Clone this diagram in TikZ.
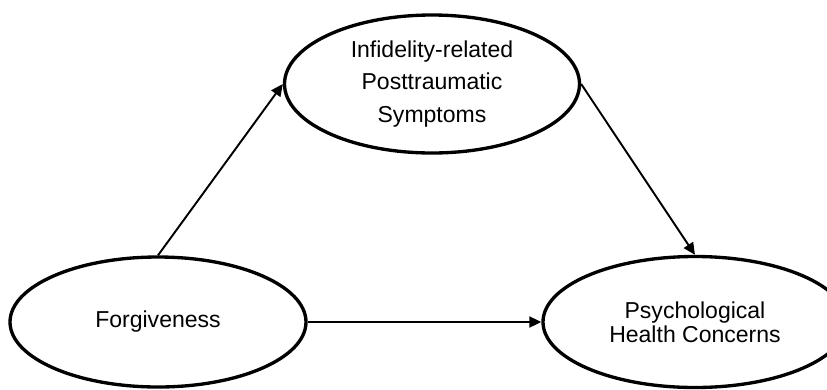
\documentclass[tikz,border=0pt]{standalone}
\usepackage{fontspec}
\setmainfont{Liberation Sans}
\usepackage{tikz}
\usetikzlibrary{shapes.geometric,arrows.meta,positioning}
\definecolor{pathblack}{RGB}{0,0,0}

\begin{document}
\begin{tikzpicture}[
var/.style={draw=pathblack, ellipse, line width=1.9pt, inner sep=0pt,
align=center, font=\fontsize{13.1}{18.4}\selectfont},
arrow/.style={-{Triangle[length=2.4mm, width=2.2mm]}, line width=1.1pt, draw=pathblack}
]
\useasboundingbox (0,0) rectangle (16.54,7.78);

\node[var, minimum width=5.9cm, minimum height=2.76cm] (ptsd) at (8.64,6.10)
{Infidelity-related\\Posttraumatic\\Symptoms};
\node[var, minimum width=5.92cm, minimum height=2.6cm] (forg) at (3.16,1.34)
{Forgiveness};
\node[var, minimum width=6.08cm, minimum height=2.62cm,
font=\fontsize{13.1}{13.9}\selectfont] (health) at (13.9,1.34)
{Psychological\\Health Concerns};

\draw[arrow] (forg.north) -- (ptsd.west);
\draw[arrow] (ptsd.east) -- (health.north);
\draw[arrow] (forg.east) -- (health.west);

\end{tikzpicture}
\end{document}
